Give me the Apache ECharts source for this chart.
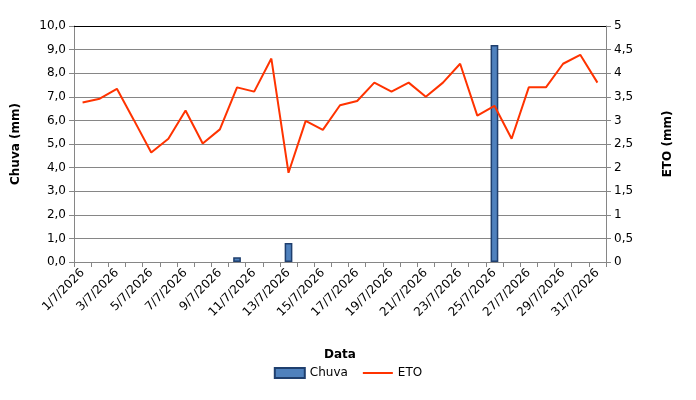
<!DOCTYPE html>
<html>
<head>
<meta charset="utf-8">
<script src="https://cdn.jsdelivr.net/npm/echarts@6/dist/echarts.min.js"></script>
<style>html,body{margin:0;padding:0;background:#fff}#c{width:696px;height:400px}</style>
</head>
<body>
<div id="c"></div>
<script>
var categories = [];
for (var d = 1; d <= 31; d++) categories.push(d + '/7/2026');
var chuva = [0,0,0,0,0,0,0,0,0,0.2,0,0,0.8,0,0,0,0,0,0,0,0,0,0,0,9.2,0,0,0,0,0,0];
var eto = [3.38,3.46,3.67,3.0,2.32,2.61,3.21,2.51,2.81,3.70,3.61,4.31,1.89,2.99,2.80,3.32,3.41,3.80,3.61,3.80,3.50,3.80,4.20,3.10,3.31,2.61,3.70,3.70,4.20,4.39,3.80];

var font = 'DejaVu Sans';
var grid = '#868686';
var chart = echarts.init(document.getElementById('c'), null, {renderer: 'canvas'});
chart.setOption({
  animation: false,
  textStyle: {fontFamily: font, color: '#000'},
  grid: {left: 74, right: 90, top: 26, bottom: 138},
  legend: {
    bottom: 16, left: 'center', itemGap: 14, itemWidth: 30, itemHeight: 10,
    textStyle: {fontFamily: font, fontSize: 12, color: '#000'},
    data: [{name: 'Chuva', icon: 'rect'}, {name: 'ETO', itemStyle: {opacity: 0}}]
  },
  xAxis: {
    type: 'category', data: categories, boundaryGap: true,
    name: 'Data', nameLocation: 'middle', nameGap: 87,
    nameTextStyle: {fontFamily: font, fontWeight: 'bold', fontSize: 12, color: '#000'},
    axisLine: {lineStyle: {color: grid, width: 1}},
    axisTick: {show: true, interval: 0, length: 5, lineStyle: {color: grid}},
    axisLabel: {interval: 1, rotate: 45, fontFamily: font, fontSize: 12, color: '#000', margin: 9}
  },
  yAxis: [{
    type: 'value', min: 0, max: 10, interval: 1,
    name: 'Chuva (mm)', nameLocation: 'middle', nameGap: 52, nameRotate: 90,
    nameTextStyle: {fontFamily: font, fontWeight: 'bold', fontSize: 12, color: '#000'},
    axisLine: {show: true, lineStyle: {color: grid}},
    axisTick: {show: true, length: 5, lineStyle: {color: grid}},
    splitLine: {show: true, lineStyle: {color: grid}},
    axisLabel: {fontFamily: font, fontSize: 12, color: '#000', margin: 8,
      formatter: function (v) { return v.toFixed(1).replace('.', ','); }}
  }, {
    type: 'value', min: 0, max: 5, interval: 0.5, position: 'right',
    name: 'ETO (mm)', nameLocation: 'middle', nameGap: 56, nameRotate: 90,
    nameTextStyle: {fontFamily: font, fontWeight: 'bold', fontSize: 12, color: '#000'},
    axisLine: {show: true, lineStyle: {color: grid}},
    axisTick: {show: true, length: 5, lineStyle: {color: grid}},
    splitLine: {show: false},
    axisLabel: {fontFamily: font, fontSize: 12, color: '#000', margin: 8,
      formatter: function (v) { return String(v).replace('.', ','); }}
  }],
  series: [{
    name: 'Chuva', type: 'bar', yAxisIndex: 0,
    data: chuva.map(function (v) { return v === 0 ? '-' : v; }), barWidth: '45%',
    itemStyle: {color: '#4f81bd', borderColor: '#1f3f6e', borderWidth: 1.5},
    markLine: {silent: true, symbol: 'none', label: {show: false},
      lineStyle: {color: '#000', type: 'solid', width: 1}, data: [{yAxis: 10}]}
  }, {
    name: 'ETO', type: 'line', yAxisIndex: 1, data: eto, symbol: 'none',
    lineStyle: {color: '#ff3300', width: 2}, itemStyle: {color: '#ff3300'}
  }]
});
</script>
</body>
</html>
